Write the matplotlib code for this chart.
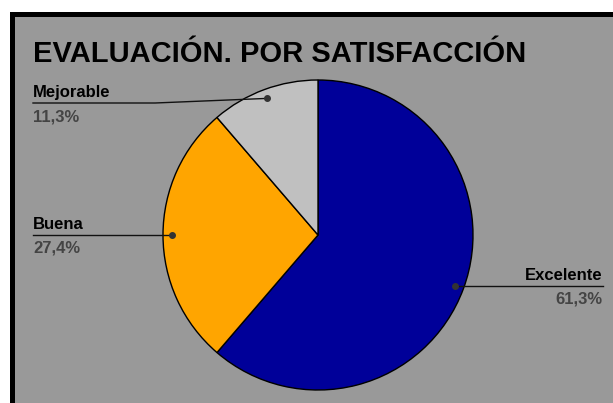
import numpy as np
import matplotlib.pyplot as plt
from matplotlib.patches import Rectangle

plt.rcParams['font.family'] = ['Liberation Sans', 'DejaVu Sans']

# datos
categorias = ["Excelente", "Buena", "Mejorable"]
valores = [61.3, 27.4, 11.3]
etiquetas_pct = ["61,3%", "27,4%", "11,3%"]
colores = ["#000099", "#FFA500", "#C0C0C0"]

W, H = 613, 403
fig = plt.figure(figsize=(W / 100, H / 100), dpi=100)
ax = fig.add_axes([0, 0, 1, 1])

# marco
ax.add_patch(Rectangle((10, -20), 700, H - 12 + 20, facecolor="black", lw=0))
ax.add_patch(Rectangle((15, -20), 700, H - 17 + 20, facecolor="#999999", lw=0))

ax.text(33, H - 54, "EVALUACIÓN. POR SATISFACCIÓN", fontsize=21, fontweight="bold",
        va="center", ha="left")

cx, cy, r = 318, H - 235, 155
wedges, _ = ax.pie(valores, colors=colores, startangle=90, counterclock=False,
                   center=(cx, cy), radius=r, frame=True,
                   wedgeprops=dict(edgecolor="black", linewidth=1))
ax.set_xlim(0, W)
ax.set_ylim(0, H)
ax.set_aspect("equal")
ax.axis("off")


def etiqueta(x, y, nombre, pct, ha):
    ax.text(x, y + 3, nombre, fontsize=12, fontweight="bold", ha=ha, va="bottom")
    ax.text(x, y - 6, pct, fontsize=12, fontweight="bold", color="#444444",
            ha=ha, va="top")


# lineas guia
for i, w in enumerate(wedges):
    ang = np.deg2rad((w.theta1 + w.theta2) / 2)
    px = cx + 0.94 * r * np.cos(ang)
    py = cy + 0.94 * r * np.sin(ang)
    ax.plot(px, py, "o", color="#333333", ms=4, zorder=5)
    if categorias[i] == "Excelente":
        ax.plot([px, 603], [py, py], color="#111111", lw=1, zorder=4)
        etiqueta(603, py, categorias[i], etiquetas_pct[i], "right")
    elif categorias[i] == "Mejorable":
        ly = H - 103
        ax.plot([px, 155, 33], [py, ly, ly], color="#111111", lw=1, zorder=4)
        etiqueta(33, ly, categorias[i], etiquetas_pct[i], "left")
    else:
        ax.plot([px, 33], [py, py], color="#111111", lw=1, zorder=4)
        etiqueta(33, py, categorias[i], etiquetas_pct[i], "left")

fig.savefig("out.png", dpi=100, facecolor="white")
